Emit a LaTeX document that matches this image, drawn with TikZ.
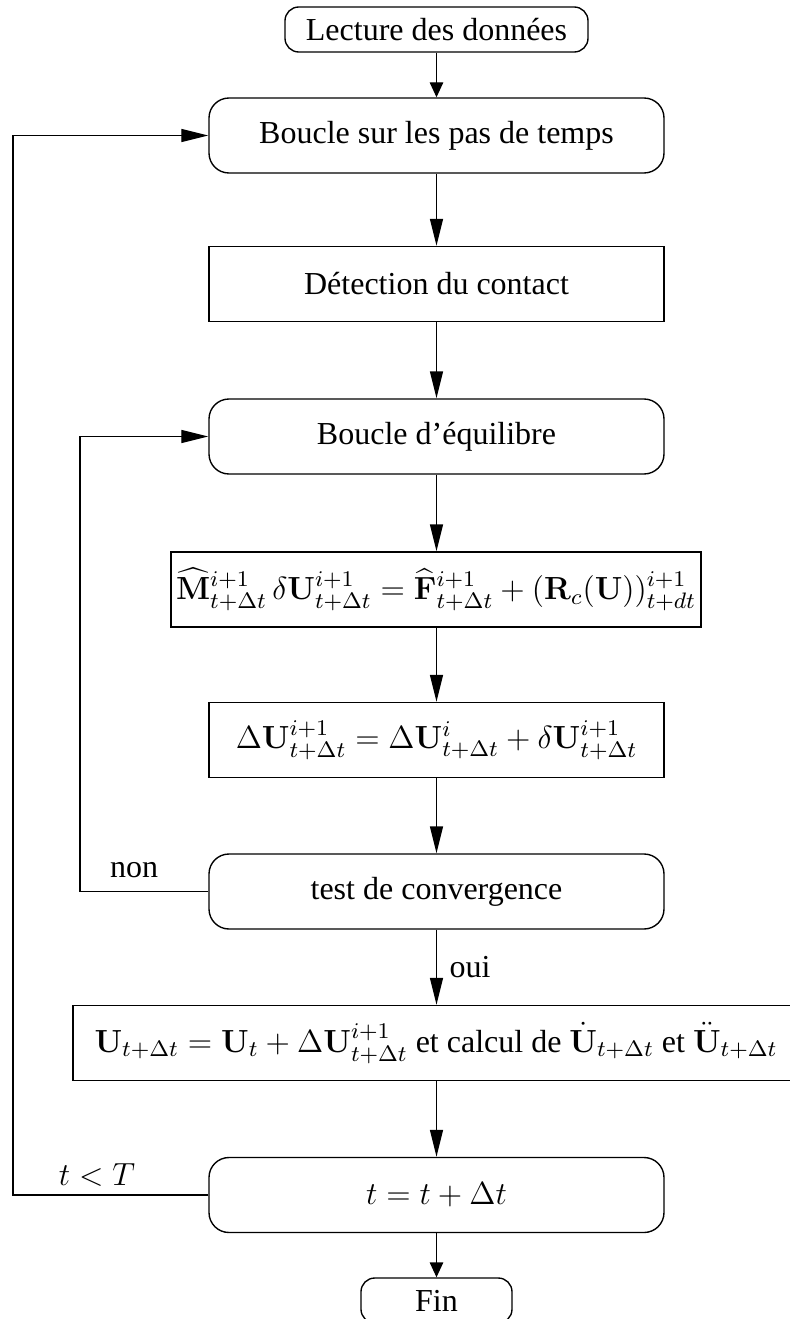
\RequirePackage{fix-cm}
\documentclass[tikz,border=0pt]{standalone}
\usepackage{amsmath}
\usepackage[no-math]{fontspec}
\setmainfont{Liberation Serif}
\usetikzlibrary{arrows.meta}
\tikzset{
  rbox/.style={draw, rounded corners=8pt, minimum width=182pt, minimum height=30pt, inner sep=0pt},
  sbox/.style={draw, minimum width=182pt, minimum height=30pt, inner sep=0pt},
  tbox/.style={draw, rounded corners=5.5pt, minimum height=18pt, inner sep=0pt},
  longarr/.style={-{Triangle[length=10.8pt,width=5.2pt]}},
  shortarr/.style={-{Triangle[length=6pt,width=5.4pt]}},
  lbl/.style={inner sep=0pt}
}
\begin{document}
\begin{tikzpicture}[x=0.4pt,y=-0.4pt,line width=0.55pt,font=\fontsize{12.8}{15}\selectfont]
\useasboundingbox (0,0) rectangle (790,1319);
\node[tbox, minimum width=121.2pt] (lect) at (436.5,29.5) {Lecture des données};
\node[rbox] (boucle) at (436.5,135.5) {Boucle sur les pas de temps};
\node[sbox] (detect) at (436.5,284) {Détection du contact};
\node[rbox] (equil) at (436.5,436.5) {Boucle d’équilibre};
\node[sbox, minimum width=212pt] (eqa) at (436,589.5) {$\widehat{\mathbf{M}}^{i+1}_{t+\Delta t}\,\delta\mathbf{U}^{i+1}_{t+\Delta t}=\widehat{\mathbf{F}}^{i+1}_{t+\Delta t}+(\mathbf{R}_c(\mathbf{U}))^{i+1}_{t+dt}$};
\node[sbox] (eqb) at (436.5,740) {$\Delta\mathbf{U}^{i+1}_{t+\Delta t}=\Delta\mathbf{U}^{i}_{t+\Delta t}+\delta\mathbf{U}^{i+1}_{t+\Delta t}$};
\node[rbox] (test) at (436.5,891.5) {test de convergence};
\node[sbox, minimum width=290.4pt] (upd) at (436,1043) {$\mathbf{U}_{t+\Delta t}=\mathbf{U}_t+\Delta\mathbf{U}^{i+1}_{t+\Delta t}$ et calcul de $\dot{\mathbf{U}}_{t+\Delta t}$ et $\ddot{\mathbf{U}}_{t+\Delta t}$};
\node[rbox] (tinc) at (436.5,1195) {$t=t+\Delta t$};
\node[tbox, minimum width=60.4pt] (fin) at (436.5,1300.5) {Fin};
\coordinate (c1) at (80,0);
\coordinate (c2) at (13,0);
\draw[shortarr] (lect.south) -- (boucle.north);
\draw[longarr] (boucle.south) -- (detect.north);
\draw[longarr] (detect.south) -- (equil.north);
\draw[longarr] (equil.south) -- (eqa.north -| equil.south);
\draw[longarr] (eqa.south -| eqb.north) -- (eqb.north);
\draw[longarr] (eqb.south) -- (test.north);
\draw[longarr] (test.south) -- (upd.north -| test.south) node[lbl, pos=0.5, right=5pt] {oui};
\draw[longarr] (upd.south -| tinc.north) -- (tinc.north);
\draw[shortarr] (tinc.south) -- (fin.north);
\draw[longarr] (test.west) -- (test.west -| c1) |- (equil.west);
\draw[longarr] (tinc.west) -- (tinc.west -| c2) |- (boucle.west);
\node[lbl, anchor=base] (non) at (134,877) {non};
\node[lbl, anchor=base] (ltT) at (97,1185) {$t<T$};
\end{tikzpicture}
\end{document}
